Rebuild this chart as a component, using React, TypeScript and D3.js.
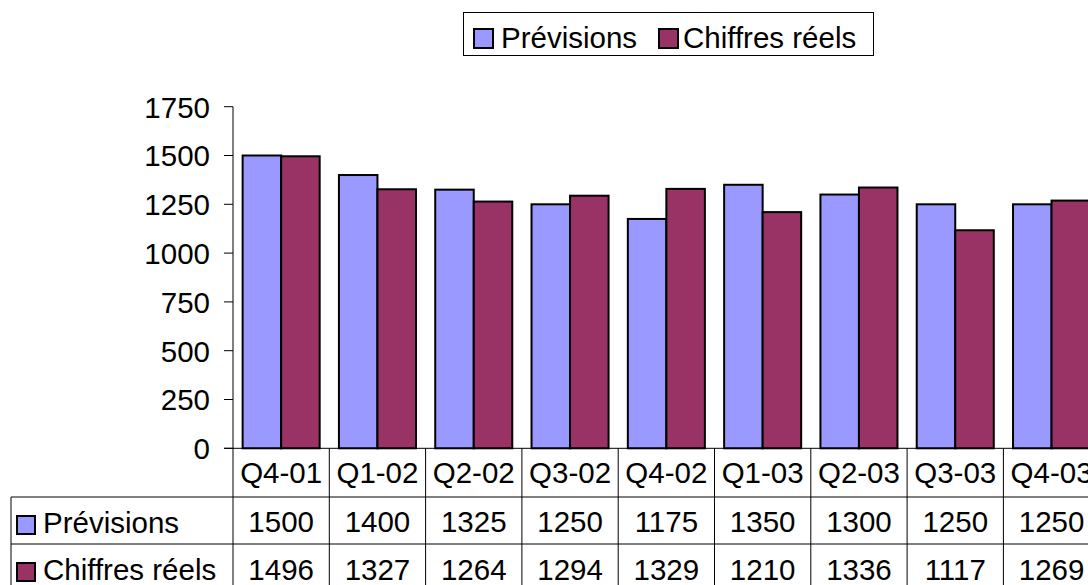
import React from "react";
import * as d3 from "d3";

const categories = ["Q4-01", "Q1-02", "Q2-02", "Q3-02", "Q4-02", "Q1-03", "Q2-03", "Q3-03", "Q4-03"];
const previsions = [1500, 1400, 1325, 1250, 1175, 1350, 1300, 1250, 1250];
const chiffresReels = [1496, 1327, 1264, 1294, 1329, 1210, 1336, 1117, 1269];
const yTicks = [0, 250, 500, 750, 1000, 1250, 1500, 1750];

const seriesNames = ["Prévisions", "Chiffres réels"];
const seriesData = [previsions, chiffresReels];
const colors = ["#9999FF", "#993366"];

const W = 1088;
const H = 585;
const FONT = "'Liberation Sans', Arial, sans-serif";

export default function App() {
  const axisX = 233;
  const catW = 96.3;
  const x = d3
    .scaleBand<string>()
    .domain(categories)
    .range([axisX, axisX + catW * categories.length])
    .paddingInner(0)
    .paddingOuter(0);
  const y = d3.scaleLinear().domain([0, 1750]).range([448.3, 106.7]);
  const barW = x.bandwidth() / 2.5;
  const gap = x.bandwidth() * 0.1;

  const row1Top = 448.3;
  const row2Top = 497;
  const row3Top = 544;
  const rowBottom = 591;
  const tableLeft = 11;
  const fs = 29.5;

  return (
    <svg
      width={W}
      height={H}
      style={{ position: "absolute", left: 0, top: 0, display: "block", overflow: "hidden" }}
      fontFamily={FONT}
    >
      <rect x={0} y={0} width={W} height={H} fill="#fff" />
      {/* Legend */}
      <g>
        <rect x={463.5} y={12.5} width={410} height={43} fill="#fff" stroke="#000" strokeWidth={1} />
        <rect x={474} y={29} width={19} height={19} fill={colors[0]} stroke="#000" strokeWidth={2} />
        <text x={501} y={48} fontSize={fs} fill="#000">{seriesNames[0]}</text>
        <rect x={659} y={29} width={19} height={19} fill={colors[1]} stroke="#000" strokeWidth={2} />
        <text x={683} y={48} fontSize={fs} fill="#000">{seriesNames[1]}</text>
      </g>
      {/* Y axis */}
      <line x1={axisX} x2={axisX} y1={y(1750)} y2={rowBottom} stroke="#000" strokeWidth={1} />
      {yTicks.map((t) => (
        <g key={t}>
          <line x1={axisX - 9} x2={axisX} y1={y(t)} y2={y(t)} stroke="#000" strokeWidth={1} />
          <text x={210} y={y(t)} dy="0.37em" textAnchor="end" fontSize={fs} fill="#000">
            {t}
          </text>
        </g>
      ))}
      {/* Bars */}
      {categories.map((c, i) => (
        <g key={c}>
          {seriesData.map((s, j) => {
            const bx = (x(c) as number) + gap + j * barW;
            return (
              <rect
                key={j}
                x={bx}
                y={y(s[i])}
                width={barW}
                height={y(0) - y(s[i])}
                fill={colors[j]}
                stroke="#000"
                strokeWidth={2}
              />
            );
          })}
        </g>
      ))}
      {/* X axis line */}
      <line x1={axisX - 9} x2={W} y1={row1Top} y2={row1Top} stroke="#000" strokeWidth={1} />
      {/* Data table */}
      <line x1={tableLeft} x2={W} y1={row2Top} y2={row2Top} stroke="#000" strokeWidth={1} />
      <line x1={tableLeft} x2={W} y1={row3Top} y2={row3Top} stroke="#000" strokeWidth={1} />
      <line x1={tableLeft} x2={tableLeft} y1={row2Top} y2={rowBottom} stroke="#000" strokeWidth={1} />
      {categories.map((c) => (
        <line
          key={c}
          x1={(x(c) as number) + x.bandwidth()}
          x2={(x(c) as number) + x.bandwidth()}
          y1={row1Top}
          y2={rowBottom}
          stroke="#000"
          strokeWidth={1}
        />
      ))}
      {categories.map((c, i) => {
        const cx = (x(c) as number) + x.bandwidth() / 2;
        return (
          <g key={c}>
            <text x={cx} y={483} textAnchor="middle" fontSize={fs} fill="#000">{c}</text>
            <text x={cx} y={532} textAnchor="middle" fontSize={fs} fill="#000">{previsions[i]}</text>
            <text x={cx} y={580} textAnchor="middle" fontSize={fs} fill="#000">{chiffresReels[i]}</text>
          </g>
        );
      })}
      {seriesNames.map((n, j) => {
        const top = j === 0 ? row2Top : row3Top;
        return (
          <g key={n}>
            <rect x={17} y={top + 19} width={18} height={18} fill={colors[j]} stroke="#000" strokeWidth={2} />
            <text x={43} y={top + 36} fontSize={fs} fill="#000">{n}</text>
          </g>
        );
      })}
    </svg>
  );
}
